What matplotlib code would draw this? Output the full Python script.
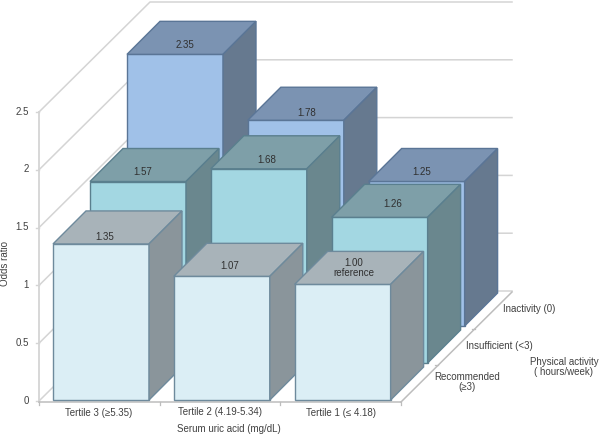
import matplotlib
matplotlib.use('Agg')
import matplotlib.pyplot as plt
from matplotlib.patches import Polygon

plt.rcParams['font.family'] = ['Liberation Sans', 'DejaVu Sans']

tertiles = ["Tertile 3 (\u22655.35)", "Tertile 2 (4.19-5.34)", "Tertile 1 (\u2264 4.18)"]
activity = ["Recommended\n(\u22653)", "Insufficient (<3)", "Inactivity (0)"]
y_ticks = [0, 0.5, 1, 1.5, 2, 2.5]

# odds ratios, one list per activity row, tertile 3 first
recommended = [1.35, 1.07, 1.00]
insufficient = [1.57, 1.68, 1.26]
inactivity = [2.35, 1.78, 1.25]

# front, top, side, edge
row_colors = [
    ("#DBEEF5", "#A8B3B9", "#8A959B", "#6E8A9C"),
    ("#A3D7E2", "#7E9FA8", "#6A878E", "#5A7F8E"),
    ("#A0C1E8", "#7B93B2", "#66798F", "#5A7596"),
]

# label shift on the top face, per (row, col), the labels are not centred in the original
label_shift = {
    (0, 0): (-4, -7), (0, 1): (0, -10), (0, 2): (3, -16.5),
    (1, 0): (-3, -10), (1, 1): (0, -9), (1, 2): (5, -13),
    (2, 0): (2, -9), (2, 1): (3, -7), (2, 2): (-3, -10),
}

# oblique projection of the chart box on the picture, in pixels
unit = 115.6
x_left = 39
y_base = 401
bar_lift = 1
bar_w = 96
col_step = 120.8
bar_x0 = 14
row_step = 37
bar_d = 33
wall_dx = 111
wall_dy = 110
floor_w = 362


def project(x, v, d):
    # x along the front, v is the odds ratio, d is depth into the chart
    return (x_left + x + d, y_base - v * unit - d)


def draw_bar(ax, col, row, value, colors):
    x1 = bar_x0 + col * col_step
    x2 = x1 + bar_w
    d1 = row * row_step
    d2 = d1 + bar_d
    front, top, side, edge = colors
    faces = [
        ([(x1, 0, d1), (x2, 0, d1), (x2, value, d1), (x1, value, d1)], front),
        ([(x1, value, d1), (x2, value, d1), (x2, value, d2), (x1, value, d2)], top),
        ([(x2, 0, d1), (x2, 0, d2), (x2, value, d2), (x2, value, d1)], side),
    ]
    for pts, color in faces:
        xy = [project(*p) for p in pts]
        xy = [(a, b - bar_lift) for a, b in xy]
        ax.add_patch(Polygon(xy, closed=True, facecolor=color, edgecolor=edge,
                             linewidth=1, joinstyle='miter', zorder=3))


fig = plt.figure(figsize=(6, 4.36), dpi=100)
ax = fig.add_axes([0, 0, 1, 1])
ax.set_xlim(0, 600)
ax.set_ylim(436, 0)
ax.axis('off')

grid = "#D4D4D4"
for v in y_ticks:
    (x0, y0) = project(0, v, 0)
    (x1, y1) = project(0, v, wall_dy)
    xs = [x0, x0 + wall_dx, x0 + wall_dx + floor_w]
    ys = [y0, y1, y1]
    ax.plot(xs, ys, color=grid, lw=1.1, zorder=1)
    ax.plot([x0 - 3, x0], [y0, y0], color=grid, lw=1, zorder=1)
    ax.text(29, y0 - 0.5, "%g" % v, ha='right', va='center', fontsize=7, color="#404040")

# axes lines of the floor
ax.plot([39, 39], [112, 402], color=grid, lw=1.3, zorder=1)
ax.plot([39, 401], [402, 402], color="#BDBDBD", lw=1.1, zorder=2)
ax.plot([401, 512], [402, 292], color="#BDBDBD", lw=1.1, zorder=2)
for i in range(4):
    ax.plot([39 + i * 120.7] * 2, [402, 405], color="#BDBDBD", lw=0.9, zorder=2)
for i in range(1, 3):
    ax.plot([401 + i * 37 - 3, 401 + i * 37], [402 - i * 36.7, 402 - i * 36.7], color="#BDBDBD", lw=0.9, zorder=2)

rows = [inactivity, insufficient, recommended]
for row, values in zip([2, 1, 0], rows):
    for col, value in enumerate(values):
        draw_bar(ax, col, row, value, row_colors[row])
        px, py = project(bar_x0 + col * col_step + 56, value, row * row_step)
        dx, dy = label_shift[(row, col)]
        label = "%.2f" % value
        if row == 0 and col == 2:
            label = label + "\nreference"
        ax.text(px + dx, py - bar_lift + dy, label, ha='center', va='center', fontsize=7,
                color="#303030", linespacing=1.05, zorder=6)

for name, x, y in zip(tertiles, [99, 220, 341], [413, 412, 413]):
    ax.text(x, y, name, ha='center', va='center', fontsize=7, color="#404040")
ax.text(229, 429, "Serum uric acid (mg/dL)", ha='center', va='center', fontsize=7, color="#404040")
ax.text(5, 263, "Odds ratio", rotation=90, ha='center', va='center', fontsize=7, color="#404040")

for name, x, y in zip(activity, [467, 499, 529], [382, 346, 309]):
    ax.text(x, y, name, ha='center', va='center', fontsize=7, color="#404040", linespacing=1.0)
ax.text(564, 367, "Physical activity\n( hours/week)", ha='center', va='center', fontsize=7,
        color="#404040", linespacing=1.05)

fig.savefig("out.png", dpi=100)
